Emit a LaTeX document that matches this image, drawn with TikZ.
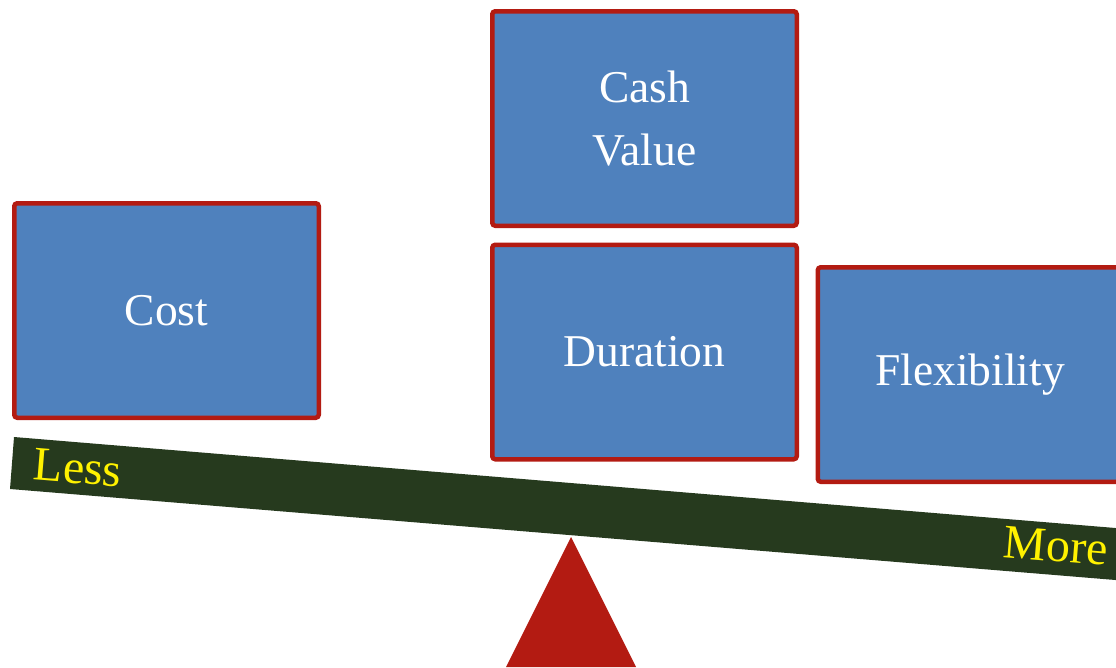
\documentclass[tikz,border=0pt]{standalone}
\usepackage{fontspec}
\setmainfont{Liberation Serif}
\definecolor{boxblue}{HTML}{4F81BD}
\definecolor{boxred}{HTML}{B31B12}
\definecolor{beamgreen}{HTML}{263A1E}
\begin{document}
\begin{tikzpicture}[x=1pt, y=-1pt,
  factor/.style={draw=boxred, line width=4.5pt, fill=boxblue, rounded corners=3pt, minimum width=304.5pt, minimum height=214.5pt, align=center, text=white, font={\fontsize{45.5}{63}\selectfont}},
  scaletag/.style={text=yellow, font={\fontsize{48}{52}\selectfont}, rotate=-4.72, inner sep=0pt}]
  \useasboundingbox (0,0) rectangle (1116,667);
  % weights
  \node[factor] (cost) at (166.5,310.5) {Cost};
  \node[factor] (cashvalue) at (644.5,118.5) {Cash\\Value};
  \node[factor] (duration) at (644.5,352) {Duration};
  \node[factor] (flexibility) at (970,374.5) {Flexibility};
  % beam and pivot
  \fill[beamgreen] (14,437) -- (1130,529.2) -- (1130,581.2) -- (10,489) -- cycle;
  \fill[boxred] (571,537) -- (636,667) -- (506,667) -- cycle;
  \node[scaletag] (less) at (78,468) {Less};
  \node[scaletag] (more) at (1056,546) {More};
\end{tikzpicture}
\end{document}
